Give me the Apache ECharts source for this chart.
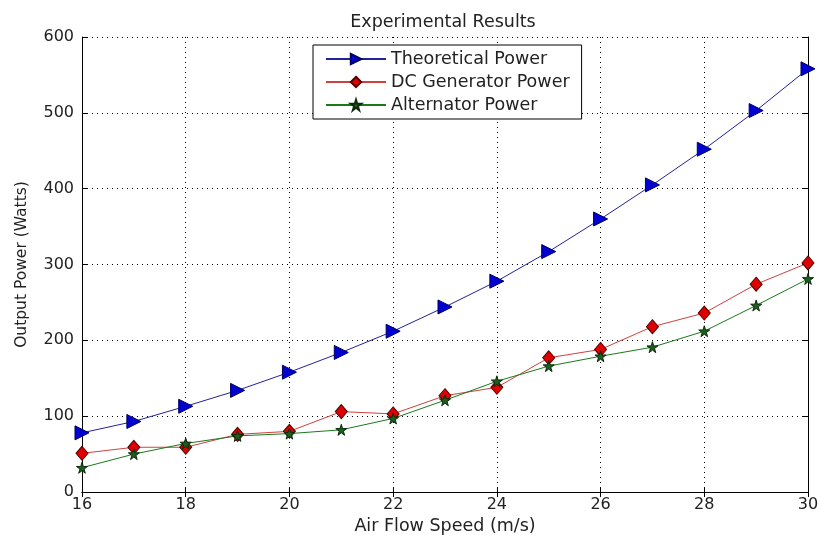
<!DOCTYPE html>
<html lang="en">
<head>
    <meta charset="utf-8">
    <title>Experimental Results</title>
    <script src="https://cdn.jsdelivr.net/npm/echarts@6/dist/echarts.min.js"></script>
    <style>
        html, body {margin: 0; padding: 0; background: #fff;}
        #main {width: 819px; height: 535px;}
    </style>
</head>
<body>
<div id="main"></div>
<script type="text/javascript">
    // data
    var speeds = [16, 17, 18, 19, 20, 21, 22, 23, 24, 25, 26, 27, 28, 29, 30];
    var theoretical = [78, 93, 113, 134, 158, 184, 212, 244, 278, 317, 360, 405, 452, 503, 558];
    var dcGenerator = [51, 59, 59, 76, 80, 106, 103, 127, 138, 177, 188, 218, 236, 274, 302];
    var alternator = [32, 50, 64, 74, 77, 82, 97, 121, 146, 166, 179, 191, 212, 246, 281];
    var seriesNames = ['Theoretical Power', 'DC Generator Power', 'Alternator Power'];

    function pairs(ys) {
        return speeds.map(function (x, i) { return [x, ys[i]]; });
    }

    var font = 'DejaVu Sans';
    var star = 'path://M50,0 L61,35 L98,35 L68,57 L79,91 L50,70 L21,91 L32,57 L2,35 L39,35 Z';

    var myChart = echarts.init(document.getElementById('main'));

    var axisCommon = {
        axisLine: {show: true, lineStyle: {color: '#000', width: 1}},
        axisTick: {show: true, inside: true, length: 5, lineStyle: {color: '#000'}},
        splitLine: {show: false}
    };

    var option = {
        animation: false,
        backgroundColor: '#fff',
        title: {
            text: 'Experimental Results',
            left: 438,
            top: 8,
            textAlign: 'center',
            textStyle: {fontFamily: font, fontSize: 17.5, fontWeight: 'normal', color: '#222'}
        },
        legend: {
            orient: 'vertical',
            left: 313,
            top: 45,
            data: seriesNames,
            itemWidth: 60,
            itemHeight: 13,
            itemGap: 5,
            padding: [5, 12, 5, 12],
            borderColor: '#000',
            borderWidth: 1,
            backgroundColor: '#fff',
            textStyle: {fontFamily: font, fontSize: 17.5, color: '#222'}
        },
        grid: {left: 82, right: 11, top: 37, bottom: 43, outerBoundsMode: 'none', containLabel: false},
        xAxis: [
            Object.assign({}, axisCommon, {
                type: 'value',
                min: 16,
                max: 30,
                interval: 2,
                name: 'Air Flow Speed (m/s)',
                nameLocation: 'middle',
                nameGap: 11,
                nameTextStyle: {fontFamily: font, fontSize: 17.5, color: '#222'},
                axisLabel: {fontFamily: font, fontSize: 16, color: '#222', margin: 5},
                splitLine: {show: true, lineStyle: {color: '#000', type: [1, 4], width: 1}}
            }),
            Object.assign({}, axisCommon, {
                type: 'value',
                position: 'top',
                min: 16,
                max: 30,
                interval: 2,
                axisLabel: {show: false}
            })
        ],
        yAxis: [
            Object.assign({}, axisCommon, {
                type: 'value',
                min: 0,
                max: 600,
                interval: 100,
                name: 'Output Power (Watts)',
                nameLocation: 'middle',
                nameGap: 52,
                nameTextStyle: {fontFamily: font, fontSize: 15.5, color: '#222'},
                axisLabel: {fontFamily: font, fontSize: 16, color: '#222', margin: 8},
                splitLine: {show: true, lineStyle: {color: '#000', type: [1, 4], width: 1}}
            }),
            Object.assign({}, axisCommon, {
                type: 'value',
                position: 'right',
                min: 0,
                max: 600,
                interval: 100,
                axisLabel: {show: false}
            })
        ],
        series: [
            {
                name: seriesNames[0],
                type: 'line',
                data: pairs(theoretical),
                symbol: 'triangle',
                symbolRotate: -90,
                symbolSize: 14,
                lineStyle: {color: '#22229a', width: 1},
                itemStyle: {color: '#0000d0', borderColor: '#000060', borderWidth: 1}
            },
            {
                name: seriesNames[1],
                type: 'line',
                data: pairs(dcGenerator),
                symbol: 'diamond',
                symbolSize: [12, 14],
                lineStyle: {color: '#d04040', width: 1},
                itemStyle: {color: '#e00000', borderColor: '#500000', borderWidth: 1}
            },
            {
                name: seriesNames[2],
                type: 'line',
                data: pairs(alternator),
                symbol: star,
                symbolSize: 11,
                lineStyle: {color: '#1a7a1a', width: 1},
                itemStyle: {color: '#1e5e1e', borderColor: '#0a2a0a', borderWidth: 1}
            }
        ]
    };
    myChart.setOption(option);
</script>
</body>
</html>
